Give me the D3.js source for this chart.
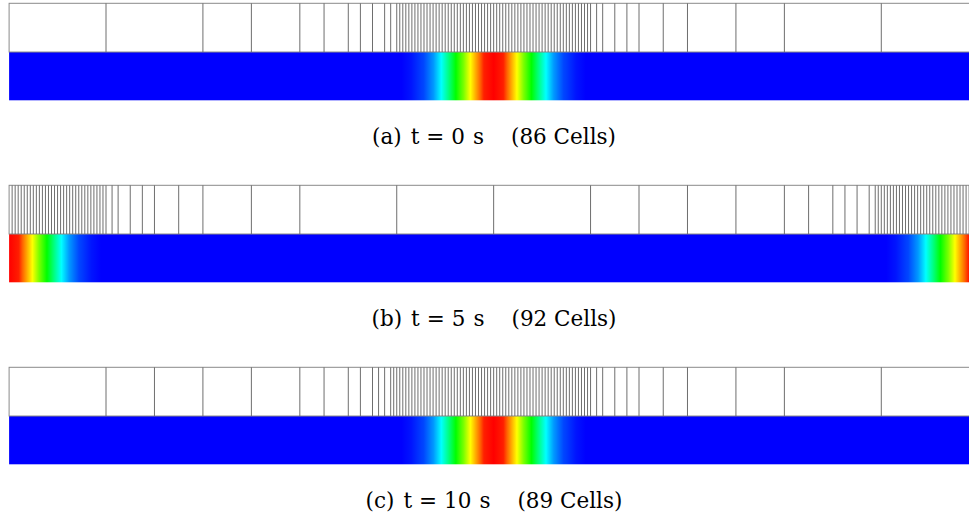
<!DOCTYPE html>
<html>
<head>
<meta charset="utf-8">
<script src="https://cdn.jsdelivr.net/npm/d3@7/dist/d3.min.js"></script>
<style>
  html, body { margin: 0; padding: 0; background: #fff; }
  svg { display: block; }
  .caption { font-family: "DejaVu Serif", "Liberation Serif", serif; font-size: 21.5px; fill: #000; }
</style>
</head>
<body>
<svg id="chart" width="969" height="516"></svg>
<script>
// Panel captions
const panelTags  = ["(a)", "(b)", "(c)"];
const panelTimes = [0, 5, 10];
const cellCounts = [86, 92, 89];

// Adaptive mesh of each panel as runs of [refinement level, number of cells]
// (level L cells have width 1 / 2^L of a base cell; 10 base cells span the domain)
const cellRunsA = [[0,2],[1,2],[2,2],[3,3],[4,2],[5,64],[4,2],[3,3],[2,2],[1,2],[0,2]];
const cellRunsB = [[5,32],[4,2],[3,3],[2,2],[1,2],[0,3],[1,4],[2,2],[3,3],[4,1],[5,34]];
const cellRunsC = [[0,1],[1,4],[2,2],[3,2],[4,3],[5,66],[4,2],[3,3],[2,2],[1,2],[0,2]];

// Pulse centres (domain units) in each panel; the domain is periodic
const pulseCentresA = [5];
const pulseCentresB = [0, 10];
const pulseCentresC = [5];

// Pulse shape: distance from centre (domain units) and field value
const profileOffsets = [0, 0.10, 0.14, 0.24, 0.31, 0.39, 0.46, 0.54, 0.62, 0.72, 0.85, 0.95];
const profileValues  = [1, 0.97, 0.90, 0.75, 0.62, 0.50, 0.38, 0.25, 0.15, 0.07, 0.02, 0];

const domainMax = 10;

const svg = d3.select("#chart");
const x = d3.scaleLinear().domain([0, domainMax]).range([9.1, 978.2]);

// blue -> cyan -> green -> yellow -> red
const colour = d3.scaleLinear()
  .domain([0, 0.25, 0.5, 0.75, 1])
  .range(["#0000ff", "#00ffff", "#00ff00", "#ffff00", "#ff0000"])
  .clamp(true);

const profile = d3.scaleLinear().domain(profileOffsets).range(profileValues).clamp(true);

const panels = [
  { runs: cellRunsA, centres: pulseCentresA },
  { runs: cellRunsB, centres: pulseCentresB },
  { runs: cellRunsC, centres: pulseCentresC }
];

const panelTop0 = 3.3, panelStep = 182, meshH = 48.7, fieldH = 48.3;
const defs = svg.append("defs");

panels.forEach((p, i) => {
  const top = panelTop0 + i * panelStep;
  const g = svg.append("g");

  // cell edges from the level runs
  const edges = [0];
  p.runs.forEach(([lvl, n]) => {
    for (let k = 0; k < n; k++) edges.push(edges[edges.length - 1] + 1 / Math.pow(2, lvl));
  });

  // field gradient
  const gid = "field" + i;
  const grad = defs.append("linearGradient")
    .attr("id", gid)
    .attr("gradientUnits", "userSpaceOnUse")
    .attr("x1", x(0)).attr("x2", x(domainMax))
    .attr("y1", 0).attr("y2", 0);
  const samples = d3.range(0, domainMax + 1e-9, 0.01);
  samples.forEach(u => {
    const v = d3.max(p.centres, c => profile(Math.abs(u - c)));
    grad.append("stop")
      .attr("offset", u / domainMax)
      .attr("stop-color", colour(v));
  });

  g.append("rect")
    .attr("x", x(0)).attr("y", top + meshH)
    .attr("width", x(domainMax) - x(0)).attr("height", fieldH)
    .attr("fill", "url(#" + gid + ")");

  // mesh row
  g.append("rect")
    .attr("x", x(0)).attr("y", top)
    .attr("width", x(domainMax) - x(0)).attr("height", meshH)
    .attr("fill", "#fff")
    .attr("stroke", "#8a8a8a").attr("stroke-width", 1);

  g.selectAll("line.edge")
    .data(edges.slice(1, -1))
    .join("line")
    .attr("class", "edge")
    .attr("x1", d => x(d)).attr("x2", d => x(d))
    .attr("y1", top).attr("y2", top + meshH)
    .attr("stroke", "#6e6e6e").attr("stroke-width", 1);

  // caption
  const t = svg.append("text")
    .attr("class", "caption")
    .attr("x", 494).attr("y", top + 141)
    .attr("text-anchor", "middle");
  t.append("tspan").text(panelTags[i]);
  t.append("tspan").attr("dx", 9).text("t");
  t.append("tspan").attr("dx", 7).text("=");
  t.append("tspan").attr("dx", 7).text(panelTimes[i]);
  t.append("tspan").attr("dx", 8).text("s");
  t.append("tspan").attr("dx", 27).text("(" + cellCounts[i] + " Cells)");
});
</script>
</body>
</html>
